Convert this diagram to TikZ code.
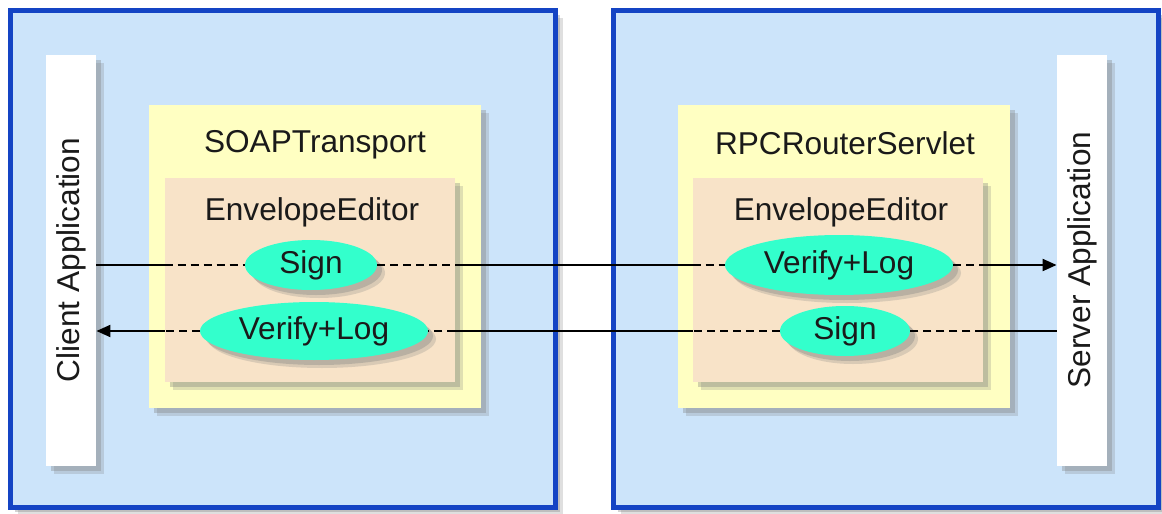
\documentclass[tikz,border=0pt]{standalone}
\usepackage{fontspec}
\setmainfont{Liberation Sans}
\usepackage{tikz}
\usetikzlibrary{arrows.meta, positioning, shapes.geometric, shadows}
\definecolor{hostblue}{HTML}{CCE4FA}
\definecolor{edgeblue}{HTML}{1444C4}
\definecolor{paleyellow}{HTML}{FFFFC2}
\definecolor{peach}{HTML}{F8E3C8}
\definecolor{aqua}{HTML}{33FFCC}
\definecolor{ink}{HTML}{1A1A1A}

\tikzset{
  softshadow/.style={drop shadow={shadow xshift=4pt, shadow yshift=-4pt, opacity=0.25},
                     drop shadow={shadow xshift=2.5pt, shadow yshift=-2.5pt, opacity=0.35}},
  hostbox/.style={draw=edgeblue, line width=2.5pt, fill=hostblue, softshadow},
  appbar/.style={fill=white, minimum width=25pt, minimum height=205.5pt, inner sep=0pt, softshadow},
  servicebox/.style={fill=paleyellow, minimum width=166pt, minimum height=151.5pt, inner sep=0pt, softshadow},
  editorbox/.style={fill=peach, minimum width=145pt, minimum height=102pt, inner sep=0pt, softshadow},
  handler/.style={ellipse, fill=aqua, inner sep=0pt, text=ink, softshadow},
  flow/.style={line width=1pt, draw=black},
  viaeditor/.style={flow, dash pattern=on 4pt off 2.5pt},
  arrowend/.style={-{Triangle[length=7pt, width=6pt]}}
}

\begin{document}
\begin{tikzpicture}[x=0.5pt, y=-0.5pt, font=\fontsize{15.8}{18}\selectfont, text=ink]
  \useasboundingbox (0,0) rectangle (1162,514);

  % Client side
  \begin{scope}
    \draw[hostbox] (10,10) rectangle (555,507);
    \node[appbar] (client) at (71,260) {\rotatebox{90}{Client Application}};
    \node[servicebox] (soap) at (315,256.5) {};
    \node (soaptitle) at (315,145) {SOAPTransport};
    \node[editorbox] (ledit) at (310,280) {};
    \node (ledittitle) at (312,212) {EnvelopeEditor};
    \node[handler, minimum width=66pt, minimum height=25pt] (lsign) at (311,265) {Sign};
    \node[handler, minimum width=114pt, minimum height=29pt] (lverify) at (314,331) {Verify+Log};
  \end{scope}

  % Server side
  \begin{scope}
    \draw[hostbox] (613,10) rectangle (1158,507);
    \node[appbar] (server) at (1082,260) {\rotatebox{90}{Server Application}};
    \node[servicebox] (router) at (843.5,256.5) {};
    \node (routertitle) at (845,143) {RPCRouterServlet};
    \node[editorbox] (redit) at (838,280) {};
    \node (redittitle) at (841,212) {EnvelopeEditor};
    \node[handler, minimum width=114pt, minimum height=30pt] (rverify) at (839,265) {Verify+Log};
    \node[handler, minimum width=65pt, minimum height=25pt] (rsign) at (845,331) {Sign};
  \end{scope}

  % Request: client -> server
  \draw[flow] (client.east |- lsign) -- (ledit.west |- lsign);
  \draw[viaeditor] (ledit.west |- lsign) -- (lsign);
  \draw[viaeditor] (lsign) -- (ledit.east |- lsign);
  \draw[flow] (ledit.east |- lsign) -- (redit.west |- rverify);
  \draw[viaeditor] (redit.west |- rverify) -- (rverify);
  \draw[viaeditor] (rverify) -- (redit.east |- rverify);
  \draw[flow, arrowend] (redit.east |- rverify) -- (server.west |- rverify);

  % Response: server -> client
  \draw[flow] (server.west |- rsign) -- (redit.east |- rsign);
  \draw[viaeditor] (redit.east |- rsign) -- (rsign);
  \draw[viaeditor] (rsign) -- (redit.west |- rsign);
  \draw[flow] (redit.west |- rsign) -- (ledit.east |- lverify);
  \draw[viaeditor] (ledit.east |- lverify) -- (lverify);
  \draw[viaeditor] (lverify) -- (ledit.west |- lverify);
  \draw[flow, arrowend] (ledit.west |- lverify) -- (client.east |- lverify);
\end{tikzpicture}
\end{document}
